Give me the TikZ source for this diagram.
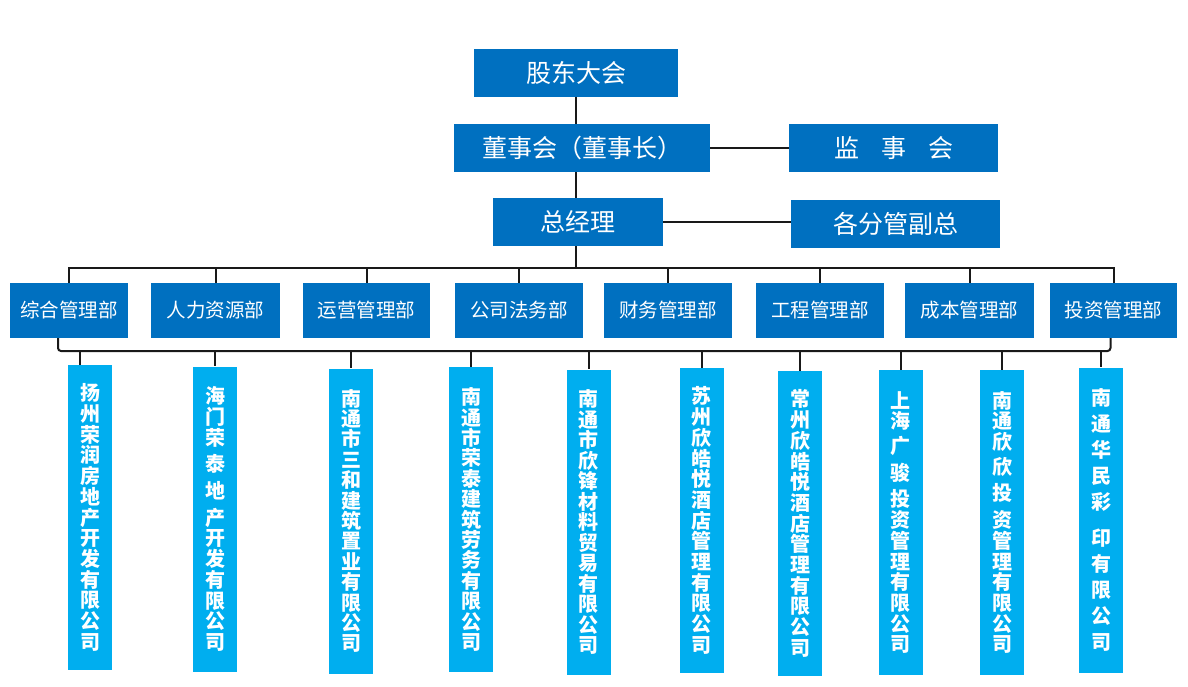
\documentclass[tikz,border=0pt]{standalone}
\usepackage{fontspec}
\setmainfont{Noto Sans CJK SC}
\definecolor{dblue}{HTML}{0070C0}
\definecolor{lblue}{HTML}{00AEEF}
\begin{document}
\begin{tikzpicture}[x=1pt,y=-1pt,
  conn/.style={line width=2pt, black!90},
  tbox/.style={fill=dblue, text=white, inner sep=0pt, minimum height=48pt, font=\fontsize{25}{30}\selectfont},
  dbox/.style={fill=dblue, text=white, inner sep=0pt, minimum height=55pt, font=\fontsize{19.5}{24}\selectfont},
  cbox/.style={fill=lblue, text=white, inner sep=0pt, minimum width=44pt, minimum height=305pt, align=center},
  cfont/.style={font=\bfseries\fontsize{20}{#1}\selectfont},
]
\useasboundingbox[fill=white] (0,0) rectangle (1188,686);

% top levels
\node[tbox, minimum width=204pt] (sh) at (576,72.5) {股东大会};
\node[tbox, minimum width=256pt] (bd) at (582,148) {董事会（董事长）};
\node[tbox, minimum width=209pt] (sv) at (893.5,148) {监\hspace{22pt}事\hspace{22pt}会};
\node[tbox, minimum width=170pt] (gm) at (578,222) {总经理};
\node[tbox, minimum width=209pt] (vp) at (895.5,224) {各分管副总};

% departments
\node[dbox, minimum width=118pt] (d1) at (69,310.5) {综合管理部};
\node[dbox, minimum width=129pt] (d2) at (215.5,310.5) {人力资源部};
\node[dbox, minimum width=127pt] (d3) at (366.5,310.5) {运营管理部};
\node[dbox, minimum width=128pt] (d4) at (519,310.5) {公司法务部};
\node[dbox, minimum width=128pt] (d5) at (668,310.5) {财务管理部};
\node[dbox, minimum width=128pt] (d6) at (820,310.5) {工程管理部};
\node[dbox, minimum width=129pt] (d7) at (969.5,310.5) {成本管理部};
\node[dbox, minimum width=127pt] (d8) at (1113.5,310.5) {投资管理部};

% companies
\node[cbox, cfont=20.7] (c1) at (90,517.5) {扬\\州\\荣\\润\\房\\地\\产\\开\\发\\有\\限\\公\\司};
\node[cbox, cfont=20.7] (c2) at (215,519) {海\\门\\荣\\[6pt]泰\\[6pt]地\\[6pt]产\\开\\发\\有\\限\\公\\司};
\node[cbox, cfont=20.4] (c3) at (351,521) {南\\通\\市\\三\\和\\建\\筑\\置\\业\\有\\限\\公\\司};
\node[cbox, cfont=20.4] (c4) at (471,519.5) {南\\通\\市\\荣\\泰\\建\\筑\\劳\\务\\有\\限\\公\\司};
\node[cbox, cfont=20.5] (c5) at (588.5,522) {南\\通\\市\\欣\\锋\\材\\料\\贸\\易\\有\\限\\公\\司};
\node[cbox, cfont=20.7] (c6) at (701.5,520.5) {苏\\州\\欣\\皓\\悦\\酒\\店\\管\\理\\有\\限\\公\\司};
\node[cbox, cfont=20.7] (c7) at (800,523.5) {常\\州\\欣\\皓\\悦\\酒\\店\\管\\理\\有\\限\\公\\司};
\node[cbox, cfont=20.7] (c8) at (900.5,522.5) {上\\海\\[4pt]广\\[6pt]骏\\[6pt]投\\资\\管\\理\\有\\限\\公\\司};
\node[cbox, cfont=20.7] (c9) at (1002,522.5) {南\\通\\欣\\[4pt]欣\\[6pt]投\\[6pt]资\\管\\理\\有\\限\\公\\司};
\node[cbox, cfont=25.8] (c10) at (1101,520) {南\\通\\华\\民\\彩\\[11pt]印\\有\\限\\公\\司};

% bus coordinates
\coordinate (tb) at (576,268);
\coordinate (bb) at (576,351);

% top connectors
\draw[conn] (sh.south) -- (sh.south |- bd.north);
\draw[conn] (sh.south |- bd.south) -- (sh.south |- gm.north);
\draw[conn] (sh.south |- gm.south) -- (sh.south |- tb);
\draw[conn] (bd.east) -- (sv.west);
\draw[conn] (gm.east) -- (gm.east -| vp.west);

% top bus
\draw[conn, line cap=rect] (d1.north |- tb) -- (d8.north |- tb);
\foreach \d in {d1,d2,d3,d4,d5,d6,d7,d8}
  \draw[conn] (\d.north |- tb) -- (\d.north);

% bottom bus
\draw[conn, rounded corners=3pt] ([xshift=-11pt]d1.south) |- ([xshift=-3pt]d8.south |- bb) -- ([xshift=-3pt]d8.south);
\draw[conn] ([xshift=-10pt]c1.north |- bb) -- ([xshift=-10pt]c1.north);
\foreach \c in {c2,c3,c4,c5,c6,c7,c8,c9,c10}
  \draw[conn] (\c.north |- bb) -- (\c.north);
\end{tikzpicture}
\end{document}
